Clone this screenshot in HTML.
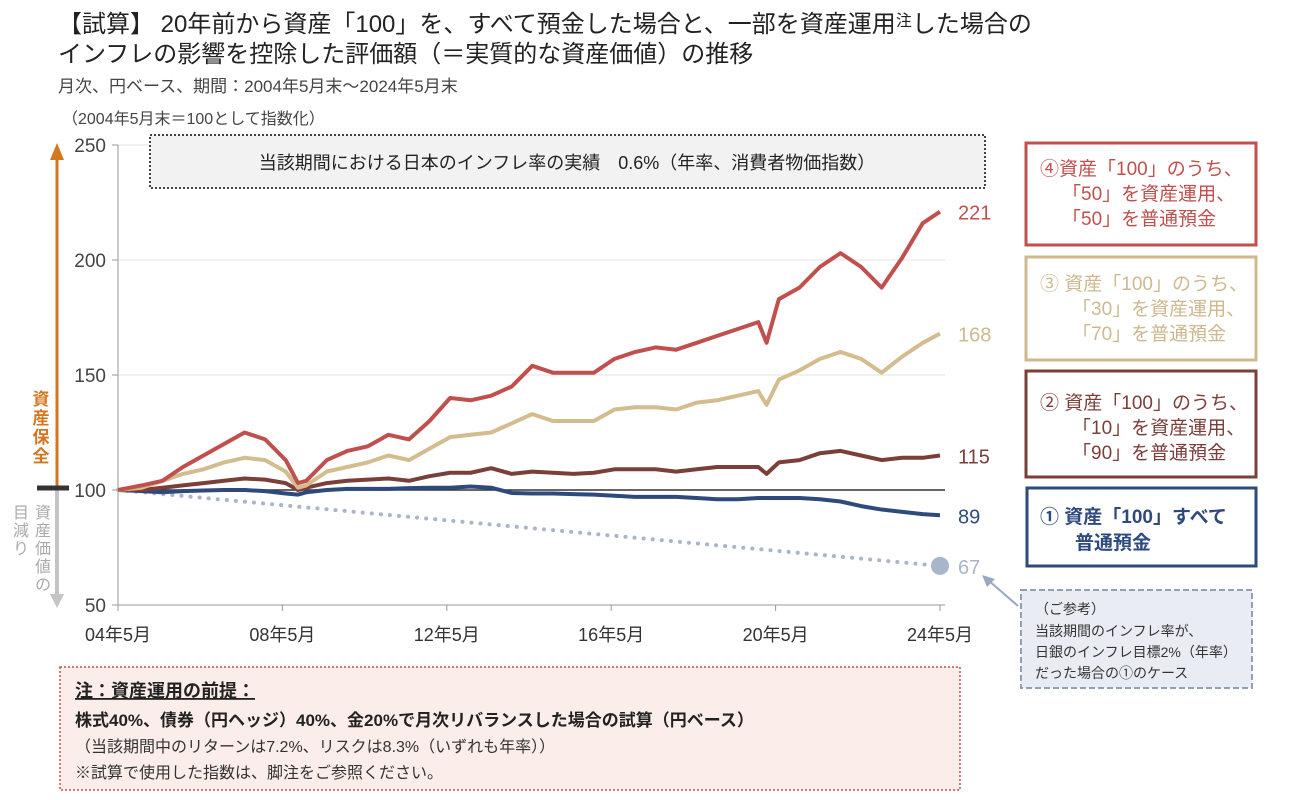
<!DOCTYPE html>
<html><head><meta charset="utf-8">
<style>
body{margin:0;width:1290px;height:795px;background:#fff;overflow:hidden;font-family:"Liberation Sans","Noto Sans CJK JP",sans-serif;}
svg text{font-family:"Liberation Sans","Noto Sans CJK JP",sans-serif;}
</style></head>
<body>
<svg id="chart" width="1290" height="795" viewBox="0 0 1290 795" xmlns="http://www.w3.org/2000/svg">
<text x="58" y="32" font-size="24" fill="#222">【試算】 20年前から資産「100」を、すべて預金した場合と、一部を資産運用<tspan font-size="16" dy="-6">注</tspan><tspan dy="6">した場合の</tspan></text>
<text x="58" y="62" font-size="24" fill="#222">インフレの影響を控除した評価額（＝実質的な資産価値）の推移</text>
<text x="58" y="92" font-size="17" fill="#444">月次、円ベース、期間：2004年5月末～2024年5月末</text>
<text x="62" y="124" font-size="16" fill="#444">（2004年5月末＝100として指数化）</text>
<g id="grid"></g>
<g id="axes"></g>
<g id="series"></g>
<rect x="150" y="135" width="835" height="53" fill="#f2f2f2" stroke="#444" stroke-width="2" stroke-dasharray="2,2"/>
<text x="567" y="169" font-size="18" fill="#222" text-anchor="middle">当該期間における日本のインフレ率の実績　0.6%（年率、消費者物価指数）</text>
<line x1="57" y1="488" x2="57" y2="158" stroke="#d4761e" stroke-width="3"/>
<polygon points="50,160 64,160 57,143" fill="#d4761e"/>
<line x1="57" y1="490" x2="57" y2="595" stroke="#c4c4c4" stroke-width="4"/>
<polygon points="50,594 64,594 57,608" fill="#c4c4c4"/>
<line x1="37" y1="488" x2="69" y2="488" stroke="#333" stroke-width="5"/>
<g font-size="17" font-weight="bold" fill="#d4761e" text-anchor="middle">
<text x="41" y="405">資</text><text x="41" y="424">産</text><text x="41" y="443">保</text><text x="41" y="462">全</text></g>
<g font-size="16" fill="#aaa" text-anchor="middle">
<text x="43" y="518">資</text><text x="43" y="536">産</text><text x="43" y="554">価</text><text x="43" y="572">値</text><text x="43" y="590">の</text>
<text x="21" y="518">目</text><text x="21" y="536">減</text><text x="21" y="554">り</text></g>
<rect x="1026" y="143" width="230" height="102" fill="#fff" stroke="#c0504d" stroke-width="3"/>
<g font-size="19" fill="#c0504d"><text x="1040" y="175">④資産「100」のうち、</text><text x="1062" y="200">「50」を資産運用、</text><text x="1062" y="225">「50」を普通預金</text></g>
<rect x="1026" y="257" width="230" height="103" fill="#fff" stroke="#cdb88f" stroke-width="3"/>
<g font-size="19" fill="#cdb88f"><text x="1040" y="290">③  資産「100」のうち、</text><text x="1072" y="315">「30」を資産運用、</text><text x="1072" y="340">「70」を普通預金</text></g>
<rect x="1026" y="371" width="230" height="106" fill="#fff" stroke="#7b3f3a" stroke-width="3"/>
<g font-size="19" fill="#7b3f3a"><text x="1040" y="409">②  資産「100」のうち、</text><text x="1072" y="434">「10」を資産運用、</text><text x="1072" y="459">「90」を普通預金</text></g>
<rect x="1027" y="488" width="229" height="78" fill="#fff" stroke="#2e4a7d" stroke-width="3"/>
<g font-size="19" font-weight="bold" fill="#2e4a7d"><text x="1040" y="523">①  資産「100」すべて</text><text x="1075" y="549">普通預金</text></g>
<rect x="1021" y="590" width="231" height="98" fill="#e9edf3" stroke="#8ea0bb" stroke-width="2" stroke-dasharray="6,3"/>
<g font-size="14" fill="#333"><text x="1035" y="614">（ご参考）</text><text x="1035" y="636">当該期間のインフレ率が、</text><text x="1035" y="657">日銀のインフレ目標2%（年率）</text><text x="1035" y="678">だった場合の①のケース</text></g>
<line x1="1018" y1="606" x2="988" y2="580" stroke="#9aa9c2" stroke-width="2"/>
<polygon points="982,575 995,579 987,587" fill="#9aa9c2"/>
<rect x="60" y="667" width="900" height="123" fill="#fbeeea" stroke="#c0504d" stroke-width="1.5" stroke-dasharray="2,2"/>
<text x="75" y="697" font-size="18" font-weight="bold" fill="#222" text-decoration="underline">注：資産運用の前提：</text>
<text x="75" y="726" font-size="17" font-weight="bold" fill="#222">株式40%、債券（円ヘッジ）40%、金20%で月次リバランスした場合の試算（円ベース）</text>
<text x="75" y="752" font-size="16" fill="#333">（当該期間中のリターンは7.2%、リスクは8.3%（いずれも年率））</text>
<text x="75" y="778" font-size="16" fill="#333">※試算で使用した指数は、脚注をご参照ください。</text>
</svg>
<script>
const dates=[2004.42,2005,2005.5,2006,2006.5,2007,2007.5,2008,2008.5,2008.8,2009,2009.5,2010,2010.5,2011,2011.5,2012,2012.5,2013,2013.5,2014,2014.5,2015,2015.5,2016,2016.5,2017,2017.5,2018,2018.5,2019,2019.5,2020,2020.2,2020.5,2021,2021.5,2022,2022.5,2023,2023.5,2024,2024.42];
const case4=[100,102,104,110,115,120,125,122,113,103,104,113,117,119,124,122,130,140,139,141,145,154,151,151,151,157,160,162,161,164,167,170,173,164,183,188,197,203,197,188,201,216,221];
const case3=[100,101,104,107,109,112,114,113,108,101,102,108,110,112,115,113,118,123,124,125,129,133,130,130,130,135,136,136,135,138,139,141,143,137,148,152,157,160,157,151,158,164,168];
const case2=[100,100,101,102,103,104,105,104.5,103,100,101,103,104,104.5,105,104,106,107.5,107.5,109.5,107,108,107.5,107,107.5,109,109,109,108,109,110,110,110,107,112,113,116,117,115,113,114,114,115];
const case1=[100,99.5,99,99.5,99.8,100,100,99.5,98.5,98,99,100,100.5,100.5,100.5,100.8,101,101,101.5,101,98.7,98.5,98.5,98.2,98,97.5,97,97,97,96.5,96,96,96.5,96.5,96.5,96.5,96,95,93,91.5,90.5,89.5,89];
const refDates=[2004.42,2024.42];
const refValues=[100,67];
const yTicks=[50,100,150,200,250];
const xTickYears=[2004.42,2008.42,2012.42,2016.42,2020.42,2024.42];
const xTickLabels=["04年5月","08年5月","12年5月","16年5月","20年5月","24年5月"];
const endLabels=["221","168","115","89","67"];

const X0=118,X1=940,Y0=605,Y1=145;
const xs=d=>X0+(d-2004.42)/(20)*(X1-X0);
const ys=v=>Y0-(v-50)/(200)*(Y0-Y1);
const NS="http://www.w3.org/2000/svg";
function mk(tag,parent,attrs){const e=document.createElementNS(NS,tag);for(const k in attrs)e.setAttribute(k,attrs[k]);parent.appendChild(e);return e;}
const grid=document.getElementById('grid'),axes=document.getElementById('axes'),ser=document.getElementById('series');
yTicks.forEach((t,i)=>{
  if(t!==50&&t!==100){const g=mk('line',grid,{x1:X0,x2:X1+5,y1:ys(t),y2:ys(t),stroke:'#e3e3e3','stroke-width':1});
  
  }
  const tk=mk('line',axes,{x1:X0-6,x2:X0,y1:ys(t),y2:ys(t),stroke:'#999'});
  
  
  const lb=mk('text',axes,{x:X0-12,y:ys(t)+7,'font-size':19,fill:'#444','text-anchor':'end'});
  lb.textContent=t;
  
  
});
const ya=mk('line',axes,{x1:X0,x2:X0,y1:Y1,y2:Y0,stroke:'#999'});


const xa=mk('line',axes,{x1:X0,x2:X1+5,y1:Y0,y2:Y0,stroke:'#999'});


const bl=mk('line',axes,{x1:X0,x2:X1+5,y1:ys(100),y2:ys(100),stroke:'#333','stroke-width':1.5});


xTickYears.forEach((d,i)=>{
  const tk=mk('line',axes,{x1:xs(d),x2:xs(d),y1:Y0,y2:Y0+6,stroke:'#999'});
  
  
  const lb=mk('text',axes,{x:xs(d),y:Y0+36,'font-size':18,fill:'#333','text-anchor':'middle'});
  lb.textContent=xTickLabels[i];
  
  
});
const rl=mk('polyline',ser,{points:refDates.map((d,i)=>xs(d)+','+ys(refValues[i])).join(' '),fill:'none',stroke:'#a9b5c9','stroke-width':4,'stroke-dasharray':'0.1,9','stroke-linecap':'round'});


const rd=mk('circle',ser,{cx:xs(refDates[1]),cy:ys(refValues[1]),r:9,fill:'#a9b5c9'});


const series=[[case1,'#2e4a7d','case-1-line'],[case2,'#7b3f3a','case-2-line'],[case3,'#d3bc8d','case-3-line'],[case4,'#c0504d','case-4-line']];
series.forEach(s=>{
  const p=mk('polyline',ser,{points:dates.map((d,i)=>xs(d)+','+ys(s[0][i])).join(' '),fill:'none',stroke:s[1],'stroke-width':4,'stroke-linejoin':'round'});
  
  
});
const endVals=[case4[case4.length-1],case3[case3.length-1],case2[case2.length-1],case1[case1.length-1],refValues[1]];
const endCols=['#c0504d','#cdb88f','#7b3f3a','#2e4a7d','#a9b5c9'];
endVals.forEach((v,i)=>{
  const t=mk('text',ser,{x:958,y:ys(v)+8,'font-size':20,fill:endCols[i]});
  t.textContent=endLabels[i];
  
  
});
</script>
</body></html>
